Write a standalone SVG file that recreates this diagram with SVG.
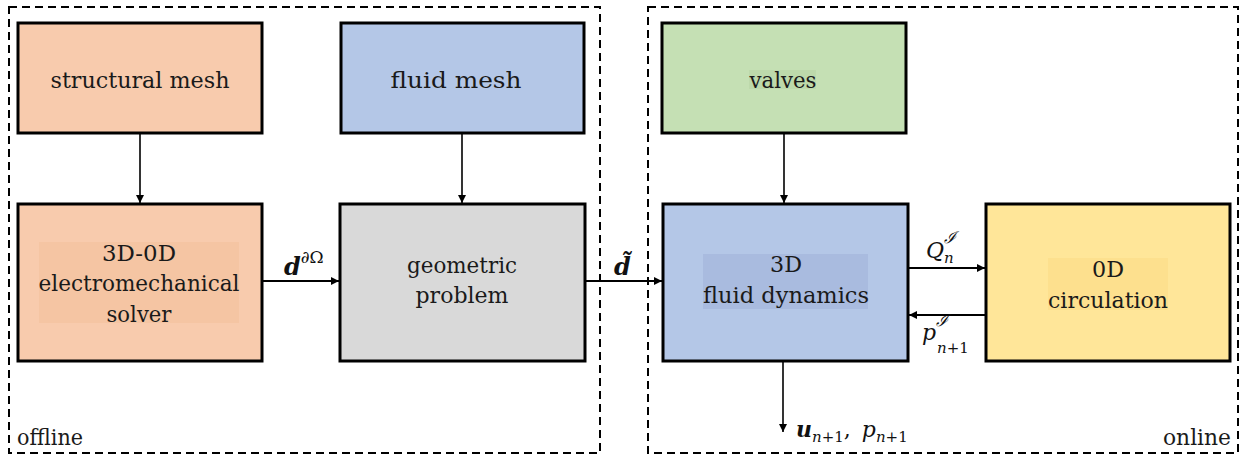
<svg xmlns="http://www.w3.org/2000/svg" width="1246" height="460" viewBox="0 0 1246 460">
<style>
.box{stroke:#000;stroke-width:3}
.t{font-family:"DejaVu Serif","Liberation Serif",serif;font-size:22px;fill:#1a1a1a;text-anchor:middle}
.m{font-family:"DejaVu Serif","Liberation Serif",serif;font-style:italic;fill:#111}
.r{font-style:normal}
.frame{fill:none;stroke:#000;stroke-width:2;stroke-dasharray:8 5}
.c{stroke:#000;fill:none}
</style>
<defs>
<marker id="ah" viewBox="0 0 10 10" refX="10" refY="5" markerWidth="10" markerHeight="8" markerUnits="userSpaceOnUse" orient="auto">
<path d="M0,0 L10,5 L0,10 z" fill="#000"/>
</marker>
</defs>
<rect width="1246" height="460" fill="#fff"/>
<g id="frames">
<rect class="frame" x="9" y="7" width="591" height="446"/>
<rect class="frame" x="648" y="7" width="590" height="446"/>
<text class="t" x="17" y="445" style="text-anchor:start" textLength="66" lengthAdjust="spacingAndGlyphs">offline</text>
<text class="t" x="1231" y="445" style="text-anchor:end" textLength="68" lengthAdjust="spacingAndGlyphs">online</text>
</g>
<g id="structural-mesh">
<rect class="box" x="18" y="23" width="244" height="110" fill="#f8cbad"/>
<text class="t" x="140" y="88" textLength="179" lengthAdjust="spacingAndGlyphs">structural mesh</text>
</g>
<g id="fluid-mesh">
<rect class="box" x="341" y="23" width="243" height="110" fill="#b4c7e7"/>
<text class="t" x="456" y="88" textLength="131" lengthAdjust="spacingAndGlyphs">fluid mesh</text>
</g>
<g id="valves">
<rect class="box" x="662" y="23" width="244" height="110" fill="#c5e0b4"/>
<rect x="749" y="70" width="67" height="19" fill="#bdd9ab"/>
<text class="t" x="783" y="88" textLength="67" lengthAdjust="spacingAndGlyphs">valves</text>
</g>
<g id="solver">
<rect class="box" x="18" y="204" width="244" height="157" fill="#f8cbad"/>
<rect x="39" y="242" width="200" height="81" fill="#f5c5a3"/>
<text class="t" x="139" y="261" textLength="74" lengthAdjust="spacingAndGlyphs">3D-0D</text>
<text class="t" x="139" y="291" textLength="201" lengthAdjust="spacingAndGlyphs">electromechanical</text>
<text class="t" x="139" y="322" textLength="65" lengthAdjust="spacingAndGlyphs">solver</text>
</g>
<g id="geometric">
<rect class="box" x="340" y="204" width="245" height="157" fill="#d9d9d9"/>
<text class="t" x="462" y="273" textLength="110" lengthAdjust="spacingAndGlyphs">geometric</text>
<text class="t" x="462" y="303" textLength="93" lengthAdjust="spacingAndGlyphs">problem</text>
</g>
<g id="fluid-dynamics">
<rect class="box" x="663" y="204" width="245" height="157" fill="#b4c7e7"/>
<rect x="703" y="254" width="165" height="55" fill="#a9bbdf"/>
<text class="t" x="786" y="272" textLength="32" lengthAdjust="spacingAndGlyphs">3D</text>
<text class="t" x="786" y="303" textLength="166" lengthAdjust="spacingAndGlyphs">fluid dynamics</text>
</g>
<g id="circulation">
<rect class="box" x="986" y="204" width="244" height="157" fill="#ffe699"/>
<rect x="1048" y="258" width="120" height="52" fill="#fde08e"/>
<text class="t" x="1108" y="277" textLength="32" lengthAdjust="spacingAndGlyphs">0D</text>
<text class="t" x="1108" y="308" textLength="120" lengthAdjust="spacingAndGlyphs">circulation</text>
</g>
<g id="connectors">
<line class="c" x1="140" y1="133" x2="140" y2="203" stroke-width="1.6" marker-end="url(#ah)"/>
<line class="c" x1="462" y1="133" x2="462" y2="203" stroke-width="1.6" marker-end="url(#ah)"/>
<line class="c" x1="784" y1="133" x2="784" y2="203" stroke-width="1.6" marker-end="url(#ah)"/>
<line class="c" x1="262" y1="281" x2="339" y2="281" stroke-width="2.2" marker-end="url(#ah)"/>
<line class="c" x1="585" y1="281" x2="662" y2="281" stroke-width="2.2" marker-end="url(#ah)"/>
<line class="c" x1="908" y1="268" x2="985" y2="268" stroke-width="2.2" marker-end="url(#ah)"/>
<line class="c" x1="986" y1="315" x2="909" y2="315" stroke-width="2.2" marker-end="url(#ah)"/>
<line class="c" x1="783" y1="361" x2="783" y2="432" stroke-width="1.6" marker-end="url(#ah)"/>
</g>
<g id="labels">
<text class="m" x="284" y="275" font-size="24" font-weight="bold">d<tspan class="r" font-weight="normal" font-size="17" dy="-12">∂Ω</tspan></text>
<text class="m" x="614" y="275" font-size="24" font-weight="bold">d̃</text>
<text class="m" x="926" y="258" font-size="22">Q<tspan font-size="16" dy="-15">ℐ</tspan><tspan font-size="15" dx="-12" dy="20">n</tspan></text>
<text class="m" x="922" y="340" font-size="22">p<tspan font-size="16" dy="-14">ℐ</tspan><tspan font-size="15" dx="-11" dy="27">n</tspan><tspan class="r" font-size="15">+1</tspan></text>
<text class="m" x="796" y="437" font-size="22" font-weight="bold">u<tspan font-weight="normal" font-size="15" dy="5">n</tspan><tspan class="r" font-weight="normal" font-size="15">+1</tspan><tspan class="r" font-weight="normal" dy="-5">, </tspan><tspan font-weight="normal" dx="4">p</tspan><tspan font-weight="normal" font-size="15" dy="5">n</tspan><tspan class="r" font-weight="normal" font-size="15">+1</tspan></text>
</g>
</svg>
